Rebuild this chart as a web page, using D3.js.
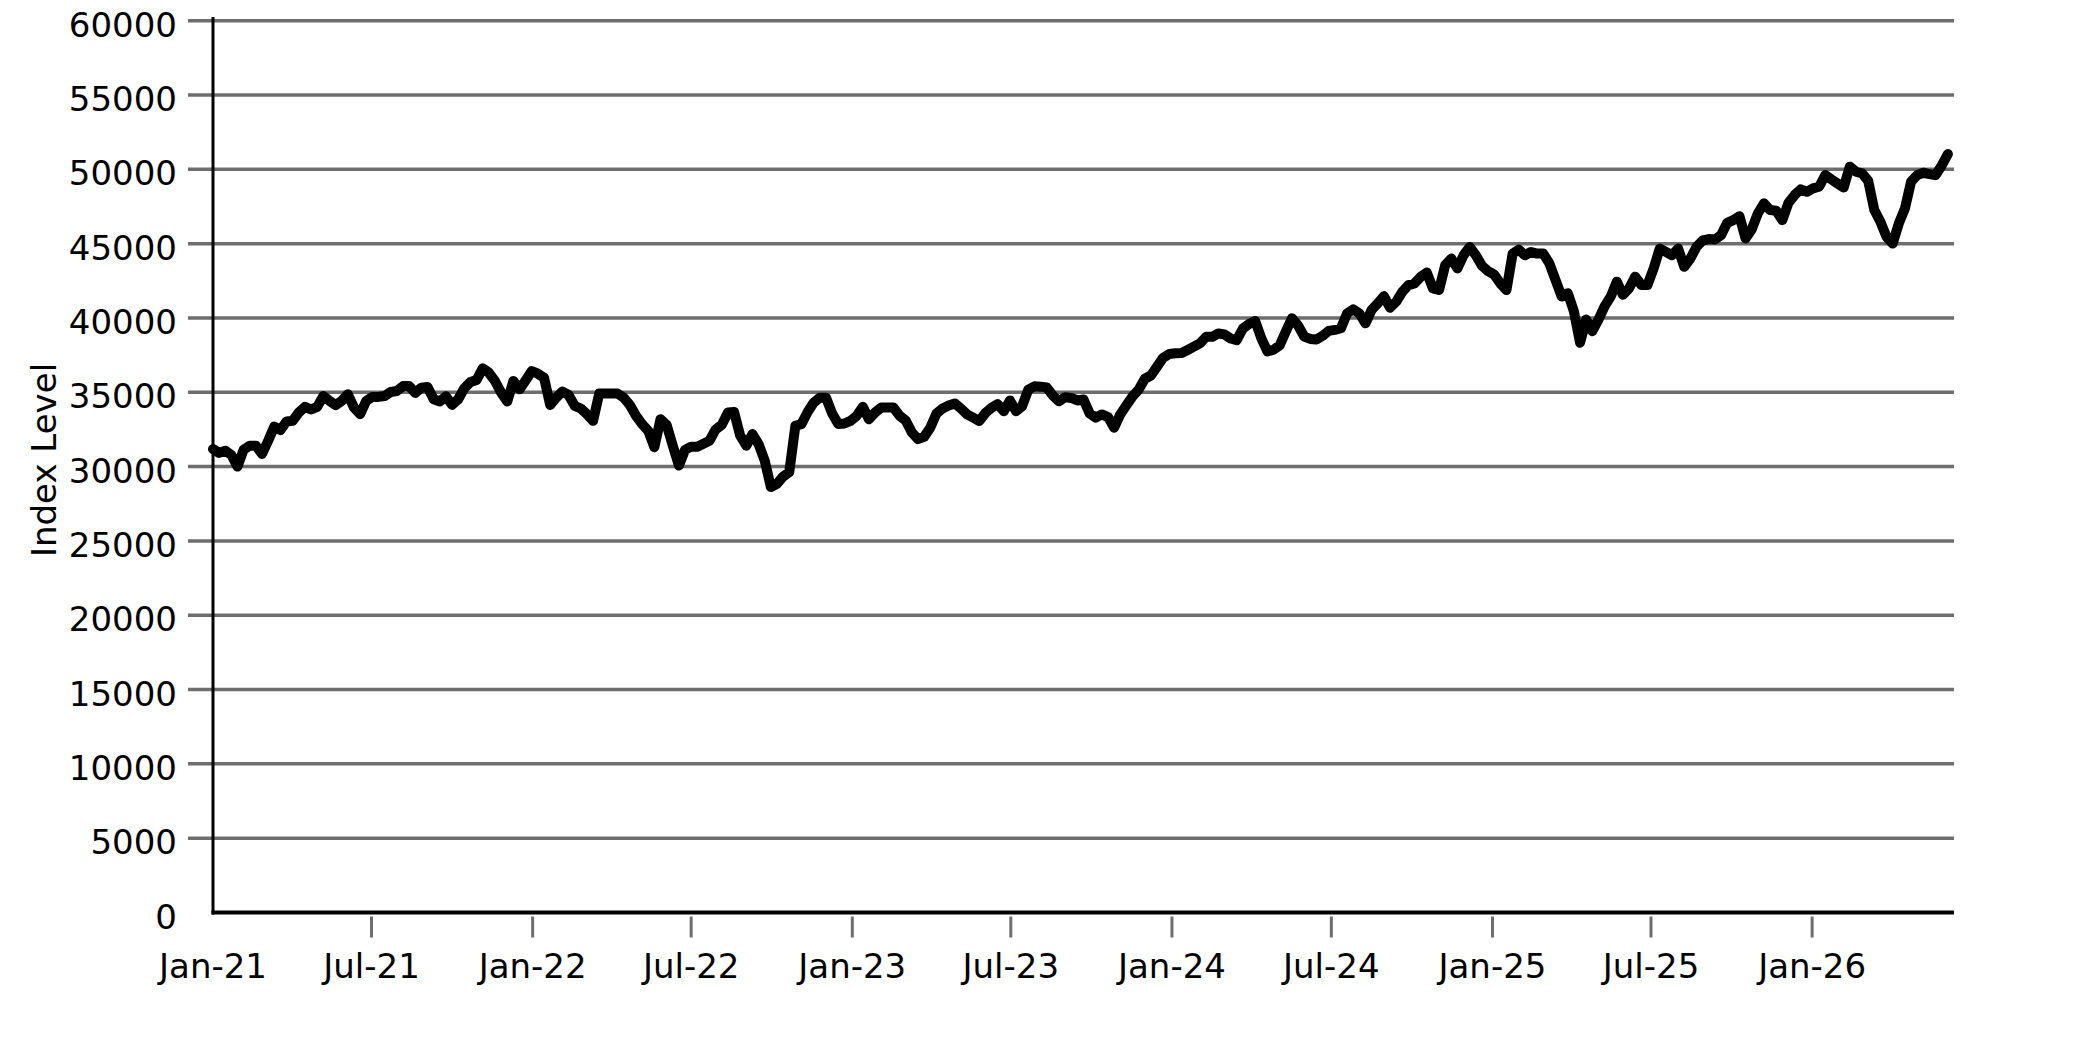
<!DOCTYPE html>
<html>
<head>
<meta charset="utf-8">
<script src="https://cdn.jsdelivr.net/npm/d3@7"></script>
<style>
  body { margin: 0; background: #fff; }
  text { font-family: "DejaVu Sans", sans-serif; fill: #000; }
</style>
</head>
<body>
<div id="chart"></div>
<script>
const width = 2083;
const height = 1042;
const margin = {top: 20.7, bottom: 129.5, left: 213, right: 129};

// weekly index levels, first week starts 2021-01-01
const startDate = new Date(Date.UTC(2021, 0, 1));
const values2021 = [31180, 30920, 31070, 30780, 30000, 31140, 31410, 31410, 30850, 31740,
    32700, 32460, 33040, 33080, 33640, 34020, 33840, 34020, 34750, 34420,
    34130, 34420, 34870, 33970, 33530, 34420, 34690, 34690, 34750, 35020,
    35090, 35420, 35420, 34960, 35310, 35360, 34530, 34380, 34730, 34150,
    34530, 35270, 35690, 35830, 36610, 36320, 35760, 34980, 34380, 35760,
    35200, 35800];
const values2022 = [36430, 36250, 35980, 34150, 34640, 35050, 34820, 34090,
    33910, 33530, 33080, 34910, 34910, 34910, 34910, 34640, 34150, 33420,
    32860, 32410, 31300, 33190, 32810, 31410, 30070, 31120, 31340, 31340,
    31540, 31740, 32500, 32810, 33640, 33680, 32080, 31410, 32190, 31520,
    30400, 28620, 28840, 29330, 29620, 32750, 32860, 33680, 34310, 34640,
    34640, 33570, 32860, 32900];
const values2023 = [33080, 33420, 34020, 33190, 33640, 33970,
    33970, 33970, 33420, 33100, 32300, 31850, 32000, 32620, 33560, 33910,
    34110, 34250, 33910, 33510, 33290, 33070, 33600, 33960, 34200, 33730,
    34450, 33730, 34070, 35180, 35400, 35380, 35330, 34780, 34400, 34670,
    34620, 34450, 34510, 33580, 33290, 33510, 33330, 32620, 33510, 34130,
    34730, 35180, 35910, 36130, 36730, 37330];
const values2024 = [37580, 37620, 37640, 37850,
    38070, 38290, 38730, 38730, 38960, 38890, 38620, 38510, 39290, 39600,
    39800, 38640, 37750, 37860, 38150, 39090, 39980, 39490, 38750, 38590,
    38550, 38800, 39130, 39200, 39310, 40310, 40580, 40310, 39640, 40540,
    40980, 41470, 40690, 41090, 41760, 42210, 42320, 42770, 43060, 41990,
    41880, 43550, 44000, 43330, 44220, 44780, 44220, 43510];
const values2025 = [43150, 42920,
    42320, 41880, 44330, 44600, 44220, 44440, 44330,
    44330, 43670, 42560, 41440, 41670, 40440, 38330, 39890, 39110, 39890,
    40780, 41440, 42440, 41560, 42000, 42780, 42220, 42220, 43330, 44670,
    44440, 44220, 44670, 43440, 44000, 44780, 45220,
    45310, 45280, 45570, 46400, 46580, 46850, 45350, 45960, 47030, 47710,
    47260, 47210, 46580, 47750, 48270, 48650];
const values2026 = [48490, 48720, 48830, 49610, 49320, 49050, 48780, 50180, 49840, 49730,
    49230, 47260, 46470, 45460, 45010, 46360, 47370, 49170, 49610, 49770,
    49680, 49610, 50260, 51030];

const yTicks = [0, 5000, 10000, 15000, 20000, 25000, 30000, 35000, 40000, 45000, 50000, 55000, 60000];
const xTickDates = ['2021-01-01', '2021-07-01', '2022-01-01', '2022-07-01', '2023-01-01', '2023-07-01',
    '2024-01-01', '2024-07-01', '2025-01-01', '2025-07-01', '2026-01-01'];
const xTickLabels = ['Jan-21', 'Jul-21', 'Jan-22', 'Jul-22', 'Jan-23', 'Jul-23',
    'Jan-24', 'Jul-24', 'Jan-25', 'Jul-25', 'Jan-26'];
const yLabel = 'Index Level';

const gridColor = '#6e6e6e';

const buildData = () => {
    const all = [].concat(values2021, values2022, values2023, values2024, values2025, values2026);
    return all.map((v, i) => ({date: d3.utcDay.offset(startDate, 7 * i), value: v}));
};

const drawChart = () => {
    const data = buildData();

    const svg = d3.select('#chart')
        .append('svg')
        .attr('width', width)
        .attr('height', height)
        .style('display', 'block');

    svg.append('rect').attr('width', width).attr('height', height).attr('fill', '#fff');

    const x = d3.scaleUtc()
        .domain([startDate, new Date(Date.UTC(2026, 5, 12))])
        .range([margin.left, width - margin.right]);

    const y = d3.scaleLinear()
        .domain([0, 60000])
        .range([height - margin.bottom, margin.top]);

    // horizontal grid lines with small stubs left of the axis
    svg.append('g')
        .selectAll('line')
        .data(yTicks.filter(d => d > 0))
        .join('line')
        .attr('x1', margin.left - 25)
        .attr('x2', width - margin.right)
        .attr('y1', d => y(d))
        .attr('y2', d => y(d))
        .attr('stroke', gridColor)
        .attr('stroke-width', 3.5);

    // y tick labels
    svg.append('g')
        .selectAll('text')
        .data(yTicks)
        .join('text')
        .attr('x', margin.left - 36)
        .attr('y', d => y(d) + 16)
        .attr('text-anchor', 'end')
        .style('font-size', '34px')
        .text(d => d);

    // x ticks
    const xt = svg.append('g');
    xt.selectAll('line')
        .data(xTickDates.slice(1))
        .join('line')
        .attr('x1', d => x(new Date(d)))
        .attr('x2', d => x(new Date(d)))
        .attr('y1', height - margin.bottom + 4)
        .attr('y2', height - margin.bottom + 25)
        .attr('stroke', gridColor)
        .attr('stroke-width', 3);

    xt.selectAll('text')
        .data(xTickDates)
        .join('text')
        .attr('x', d => x(new Date(d)))
        .attr('y', 978)
        .attr('text-anchor', 'middle')
        .style('font-size', '34px')
        .text((d, i) => xTickLabels[i]);

    // axis lines
    svg.append('line')
        .attr('x1', margin.left).attr('x2', margin.left)
        .attr('y1', 17).attr('y2', height - margin.bottom + 2)
        .attr('stroke', '#000').attr('stroke-width', 3);

    svg.append('line')
        .attr('x1', margin.left - 1.5).attr('x2', width - margin.right)
        .attr('y1', height - margin.bottom).attr('y2', height - margin.bottom)
        .attr('stroke', '#000').attr('stroke-width', 4);

    // y axis title
    svg.append('text')
        .attr('transform', 'translate(56, 460) rotate(-90)')
        .attr('text-anchor', 'middle')
        .style('font-size', '34px')
        .text(yLabel);

    // index line
    svg.append('path')
        .datum(data)
        .attr('fill', 'none')
        .attr('stroke', '#000')
        .attr('stroke-width', 10)
        .attr('stroke-linejoin', 'round')
        .attr('stroke-linecap', 'round')
        .attr('d', d3.line()
            .x(d => x(d.date))
            .y(d => y(d.value)));
};

window.addEventListener('load', drawChart);
</script>
</body>
</html>
